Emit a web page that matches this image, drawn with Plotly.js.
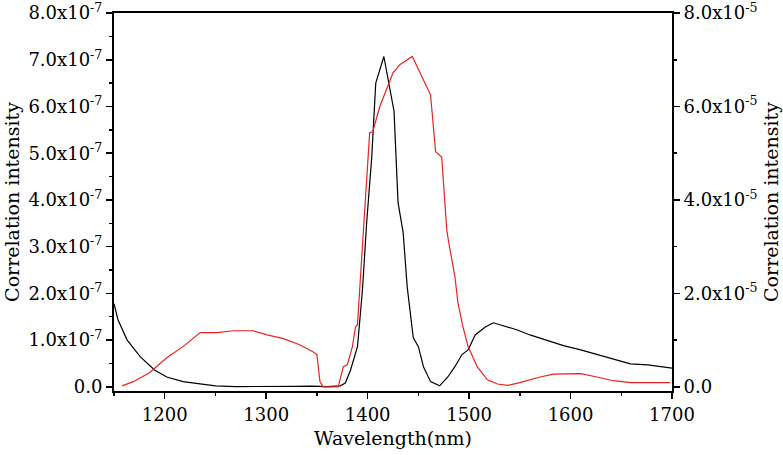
<!DOCTYPE html>
<html>
<head>
<meta charset="utf-8">
<script src="https://cdn.plot.ly/plotly-3.0.1.min.js"></script>
<style>html,body{margin:0;padding:0;background:#fff;}#chart{width:783px;height:455px;}</style>
</head>
<body>
<div id="chart"></div>
<script>
// Black curve (left axis, units of 1e-7)
var blackX = [1150,1154,1163,1176,1190,1202,1218,1235,1250,1270,1300,1330,1345,1360,1373,1378,1383,1390,1395,1399,1404,1408,1416,1426,1430,1435,1439,1445,1450,1455,1462,1471,1479,1486,1493,1499,1506,1516,1524,1534,1547,1560,1577,1593,1610,1626,1642,1659,1676,1700];
var blackY = [1.78,1.43,1.0,0.64,0.36,0.21,0.11,0.06,0.02,0.005,0.0,0.01,0.015,0.005,0.02,0.08,0.35,0.86,2.1,3.5,4.9,6.5,7.07,5.9,3.94,3.3,2.14,1.05,0.86,0.43,0.11,0.02,0.21,0.43,0.69,0.79,1.11,1.28,1.37,1.31,1.22,1.11,1.0,0.88,0.79,0.69,0.6,0.49,0.47,0.40];
// Red curve (right axis, units of 1e-5)
var redX = [1158,1169,1185,1202,1218,1235,1252,1267,1287,1301,1317,1333,1346,1350,1353,1356,1371,1374,1376,1380,1385,1388,1390,1396,1402,1405,1412,1425,1432,1444,1462,1467,1473,1478,1480,1486,1489,1494,1499,1508,1518,1528,1538,1550,1560,1570,1583,1600,1610,1626,1642,1659,1698];
var redY = [0.02,0.11,0.3,0.62,0.86,1.16,1.16,1.2,1.2,1.11,1.03,0.9,0.75,0.69,0.11,0.0,0.0,0.3,0.43,0.47,0.86,1.28,1.33,3.4,5.44,5.46,6.0,6.72,6.9,7.07,6.25,5.03,4.92,3.36,3.08,2.36,1.8,1.28,0.86,0.43,0.15,0.06,0.03,0.09,0.15,0.21,0.27,0.28,0.28,0.21,0.13,0.09,0.09];
var leftScale = 1e-7, rightScale = 1e-5;

var leftTickVals = [0,1,2,3,4,5,6,7,8];
var leftTickText = ["0.0","1.0x10<sup>-7</sup>","2.0x10<sup>-7</sup>","3.0x10<sup>-7</sup>","4.0x10<sup>-7</sup>","5.0x10<sup>-7</sup>","6.0x10<sup>-7</sup>","7.0x10<sup>-7</sup>","8.0x10<sup>-7</sup>"];
var rightTickVals = [0,2,4,6,8];
var rightTickText = ["0.0","2.0x10<sup>-5</sup>","4.0x10<sup>-5</sup>","6.0x10<sup>-5</sup>","8.0x10<sup>-5</sup>"];
var xTickVals = [1200,1300,1400,1500,1600,1700];

var font = "DejaVu Serif";

var traces = [
  {x: blackX, y: blackY.map(function(v){return v*leftScale;}), type:'scatter', mode:'lines',
   line:{color:'#000000', width:1.2}, xaxis:'x', yaxis:'y', hoverinfo:'skip'},
  {x: redX, y: redY.map(function(v){return v*rightScale;}), type:'scatter', mode:'lines',
   line:{color:'#e8231f', width:1.2}, xaxis:'x', yaxis:'y2', hoverinfo:'skip'}
];

var layout = {
  width:783, height:455,
  margin:{l:114, r:111, t:13, b:64},
  paper_bgcolor:'#fff', plot_bgcolor:'#fff',
  showlegend:false,
  font:{family:font, size:18, color:'#000'},
  xaxis:{
    range:[1150,1700], tickmode:'array', tickvals:xTickVals,
    ticks:'outside', ticklen:6, tickwidth:1.5, tickcolor:'#000',
    minor:{dtick:50, tick0:1150, ticks:'outside', ticklen:3, tickwidth:1.5, tickcolor:'#000'},
    showline:true, linecolor:'#000', linewidth:2, mirror:true,
    showgrid:false, zeroline:false, ticklabeloverflow:'allow',
    tickfont:{family:font, size:18, color:'#000'},
    title:{text:'Wavelength(nm)', font:{family:font, size:19, color:'#000'}, standoff:8}
  },
  yaxis:{
    range:[-0.09e-7, 8.001e-7], tickmode:'array',
    tickvals:leftTickVals.map(function(v){return v*leftScale;}), ticktext:leftTickText,
    ticks:'outside', ticklen:6, tickwidth:1.5, tickcolor:'#000',
    minor:{dtick:0.5e-7, tick0:0, ticks:'outside', ticklen:3, tickwidth:1.5, tickcolor:'#000'},
    showline:true, linecolor:'#000', linewidth:2,
    showgrid:false, zeroline:false, ticklabeloverflow:'allow',
    tickfont:{family:font, size:18, color:'#000'},
    title:{text:'Correlation intensity', font:{family:font, size:19, color:'#000'}, standoff:4}
  },
  yaxis2:{
    overlaying:'y', side:'right',
    range:[-0.09e-5, 8.001e-5], tickmode:'array',
    tickvals:rightTickVals.map(function(v){return v*rightScale;}), ticktext:rightTickText,
    ticks:'outside', ticklen:6, tickwidth:1.5, tickcolor:'#000',
    minor:{dtick:1e-5, tick0:0, ticks:'outside', ticklen:3, tickwidth:1.5, tickcolor:'#000'},
    showline:true, linecolor:'#000', linewidth:2,
    showgrid:false, zeroline:false, ticklabeloverflow:'allow',
    tickfont:{family:font, size:18, color:'#000'},
    title:{text:'Correlation intensity', font:{family:font, size:19, color:'#000'}, standoff:8}
  }
};

Plotly.newPlot('chart', traces, layout, {displayModeBar:false, staticPlot:true});
</script>
</body>
</html>
